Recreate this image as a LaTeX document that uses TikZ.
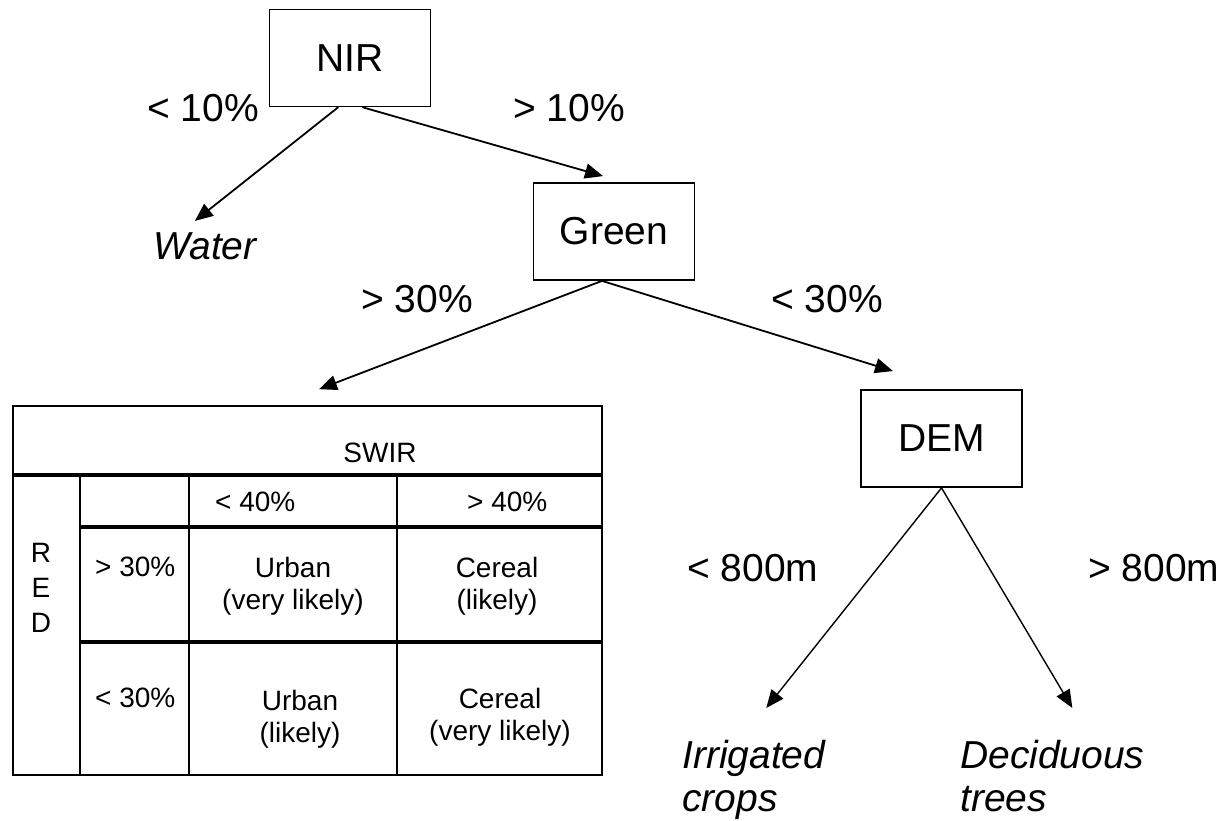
\documentclass[tikz,border=0pt]{standalone}
\usepackage{fontspec}
\setmainfont{Liberation Sans}
\usetikzlibrary{arrows.meta}

\begin{document}
\begin{tikzpicture}[x=1pt,y=1pt,>={Triangle[length=18pt,width=15pt]},line cap=round,
  box/.style={draw,line width=1.8pt,minimum width=161pt,minimum height=97pt,inner sep=0pt,font=\fontsize{39}{44}\selectfont},
  lbl/.style={inner sep=0pt,font=\fontsize{39}{44}\selectfont},
  leaf/.style={inner sep=0pt,align=left,font=\fontsize{39}{43}\selectfont\itshape},
  cell/.style={inner sep=0pt,align=center,font=\fontsize{28}{32}\selectfont},
  arr/.style={->,line width=1.8pt},
  thinarr/.style={->,line width=1.4pt},
  rowrule/.style={line width=4.5pt,line cap=butt},
  colrule/.style={line width=2.4pt,line cap=butt}]
\useasboundingbox (0,0) rectangle (1221,821);
\node[box] (nir) at (350,763) {NIR};
\node[box] (green) at (614,589.5) {Green};
\node[box] (dem) at (941.5,382.5) {DEM};
\node[leaf,anchor=base west] (water) at (153,561) {Water};
\node[leaf,anchor=north west] (irr) at (682,81) {Irrigated\\crops};
\node[leaf,anchor=north west] (dec) at (960,81) {Deciduous\\trees};
\node[lbl,anchor=base west] (nirlo) at (147,699) {< 10\%};
\node[lbl,anchor=base west] (nirhi) at (513,699) {> 10\%};
\node[lbl,anchor=base west] (greenhi) at (361,508) {> 30\%};
\node[lbl,anchor=base west] (greenlo) at (771,508) {< 30\%};
\node[lbl,anchor=base west] (demlo) at (687,239) {< 800m};
\node[lbl,anchor=base west] (demhi) at (1088,239) {> 800m};
\draw[arr] ([xshift=-12pt]nir.south) -- ([shift={(-10pt,12pt)}]water.north);
\draw[arr] ([xshift=13pt]nir.south) -- ([shift={(-11pt,6pt)}]green.north);
\node[draw,line width=1.6pt,minimum width=589pt,minimum height=369pt,inner sep=0pt] (tbl) at (307.5,230.5) {};
\draw[arr] ([xshift=-12pt]green.south) -- ([shift={(11.5pt,16pt)}]tbl.north);
\draw[arr] ([xshift=-12pt]green.south) -- ([shift={(-48.5pt,18pt)}]dem.north);
\draw[thinarr] (dem.south) -- ([shift={(12.5pt,32pt)}]irr.north);
\draw[thinarr] (dem.south) -- ([shift={(20pt,32pt)}]dec.north);
\draw[rowrule] (13,346) -- (602,346);
\draw[rowrule] (80,294) -- (602,294);
\draw[rowrule] (80,179) -- (602,179);
\draw[colrule] (80,346) -- (80,46);
\draw[colrule] (189,346) -- (189,46);
\draw[colrule] (397,346) -- (397,46);
\node[cell,anchor=base] (swir) at (380,358) {SWIR};
\node[cell,anchor=base west] (swirlo) at (215,309) {< 40\%};
\node[cell,anchor=base west] (swirhi) at (467,309) {> 40\%};
\node[cell,anchor=north,font=\fontsize{28}{35}\selectfont] (red) at (41,278) {R\\E\\D};
\node[cell,anchor=base west] (redhi) at (95,244) {> 30\%};
\node[cell,anchor=base west] (redlo) at (95,113) {< 30\%};
\node[cell,anchor=north] (urbanvl) at (293,264) {Urban\\(very likely)};
\node[cell,anchor=north] (cereall) at (497,264) {Cereal\\(likely)};
\node[cell,anchor=north] (urbanl) at (300,131) {Urban\\(likely)};
\node[cell,anchor=north] (cerealvl) at (500,133) {Cereal\\(very likely)};
\end{tikzpicture}
\end{document}
